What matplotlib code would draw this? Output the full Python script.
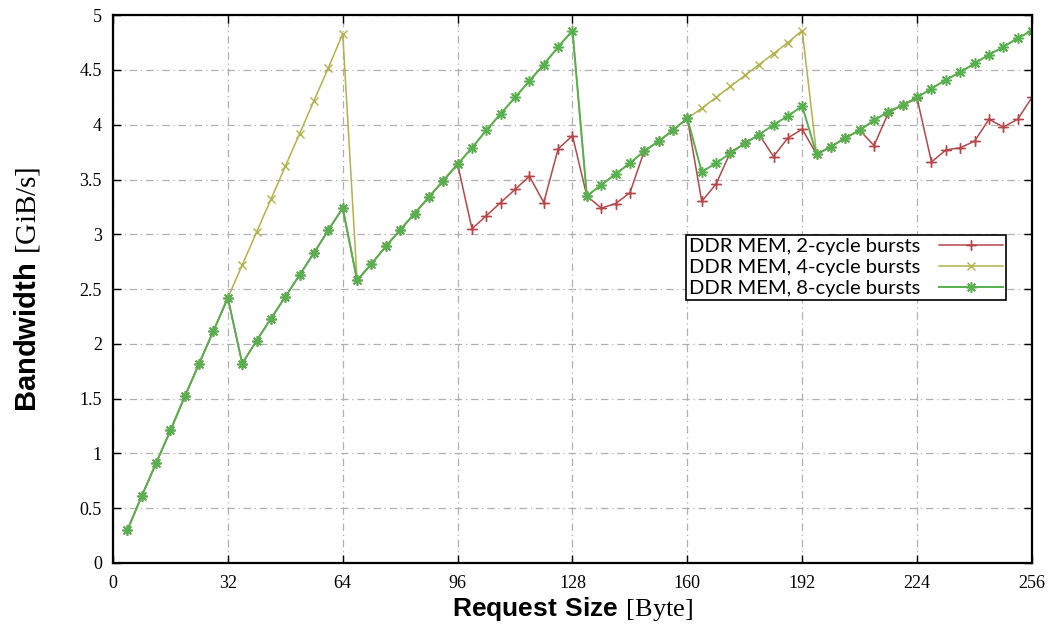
import numpy as np
import matplotlib.pyplot as plt

# request sizes (bytes)
req_size = list(range(4, 257, 4))

# bandwidth in GiB/s
bw_2cycle = [0.30, 0.61, 0.91, 1.21, 1.52, 1.82, 2.12, 2.42,
             1.82, 2.03, 2.23, 2.43, 2.63, 2.83, 3.04, 3.24,
             2.58, 2.73, 2.89, 3.04, 3.19, 3.34, 3.49, 3.64,
             3.05, 3.17, 3.29, 3.41, 3.53, 3.29, 3.78, 3.90,
             3.35, 3.24, 3.28, 3.38, 3.76, 3.85, 3.95, 4.06,
             3.30, 3.46, 3.75, 3.83, 3.91, 3.71, 3.88, 3.96,
             3.73, 3.80, 3.88, 3.95, 3.81, 4.11, 4.18, 4.24,
             3.66, 3.77, 3.79, 3.85, 4.05, 3.98, 4.05, 4.25]
bw_4cycle = [0.30, 0.61, 0.91, 1.21, 1.52, 1.82, 2.12, 2.42,
             2.72, 3.02, 3.32, 3.62, 3.92, 4.22, 4.52, 4.83,
             2.58, 2.73, 2.89, 3.04, 3.19, 3.34, 3.49, 3.64,
             3.79, 3.95, 4.10, 4.25, 4.40, 4.55, 4.71, 4.86,
             3.35, 3.45, 3.55, 3.65, 3.76, 3.85, 3.95, 4.06,
             4.15, 4.25, 4.35, 4.45, 4.55, 4.65, 4.75, 4.86,
             3.73, 3.80, 3.88, 3.95, 4.04, 4.12, 4.18, 4.25,
             4.33, 4.41, 4.48, 4.56, 4.64, 4.71, 4.79, 4.86]
bw_8cycle = [0.30, 0.61, 0.91, 1.21, 1.52, 1.82, 2.12, 2.42,
             1.82, 2.03, 2.23, 2.43, 2.63, 2.83, 3.04, 3.24,
             2.58, 2.73, 2.89, 3.04, 3.19, 3.34, 3.49, 3.64,
             3.79, 3.95, 4.10, 4.25, 4.40, 4.55, 4.71, 4.86,
             3.35, 3.45, 3.55, 3.65, 3.76, 3.85, 3.95, 4.06,
             3.57, 3.65, 3.74, 3.83, 3.91, 4.00, 4.08, 4.17,
             3.73, 3.80, 3.88, 3.95, 4.04, 4.12, 4.18, 4.25,
             4.33, 4.41, 4.48, 4.56, 4.64, 4.71, 4.79, 4.86]

labels = ['DDR MEM, 2-cycle bursts', 'DDR MEM, 4-cycle bursts', 'DDR MEM, 8-cycle bursts']
xticks = [0, 32, 64, 96, 128, 160, 192, 224, 256]

plt.rcParams['mathtext.fontset'] = 'custom'
plt.rcParams['mathtext.rm'] = 'Liberation Serif'
plt.rcParams['mathtext.bf'] = 'Liberation Sans:bold'

fig = plt.figure(figsize=(10.49, 6.34), dpi=100)
ax = fig.add_axes([0.1077, 0.112, 0.8761, 0.864])

ax.plot(req_size, bw_2cycle, color='#b5474a', lw=1.1, marker=(4, 2, 0), ms=7, mew=1.0, label=labels[0])
ax.plot(req_size, bw_4cycle, color='#b3b14a', lw=1.1, marker='x', ms=6, mew=1.0, label=labels[1])
ax.plot(req_size, bw_8cycle, color='#56b04e', lw=1.4, marker=(8, 2, 0), ms=7.5, mew=1.1, label=labels[2])

ax.set_xlim(0, 256)
ax.set_ylim(0, 5)
ax.set_xticks(xticks)
ax.set_yticks(np.arange(0, 5.01, 0.5))
ax.set_yticklabels(['0', '0.5', '1', '1.5', '2', '2.5', '3', '3.5', '4', '4.5', '5'])
ax.grid(True, color='#b0b0b0', linestyle=(0, (6, 3, 1, 3)), lw=0.9)
ax.tick_params(direction='in', top=True, right=True, length=6, width=1, labelsize=13)
ax.tick_params(axis='x', pad=9)
ax.tick_params(axis='y', pad=8)
for lab in ax.get_xticklabels() + ax.get_yticklabels():
    lab.set_family('Liberation Serif')
for sp in ax.spines.values():
    sp.set_linewidth(1.6)

ax.set_xlabel(r'$\mathbf{Request\ Size}\ \mathrm{[Byte]}$', fontsize=19, labelpad=2)
ax.set_ylabel(r'$\mathbf{Bandwidth}\ \mathrm{[GiB/s]}$', fontsize=21, labelpad=27)

leg = ax.legend(loc='upper right', bbox_to_anchor=(0.972, 0.599), markerfirst=False,
                fancybox=False, framealpha=1, edgecolor='black', borderpad=0.15,
                labelspacing=0.2, handlelength=3.2, borderaxespad=0, handletextpad=0.9,
                prop={'family': 'Lato', 'size': 14.5})
leg.get_frame().set_linewidth(1.2)

fig.savefig('out.png', dpi=100)
